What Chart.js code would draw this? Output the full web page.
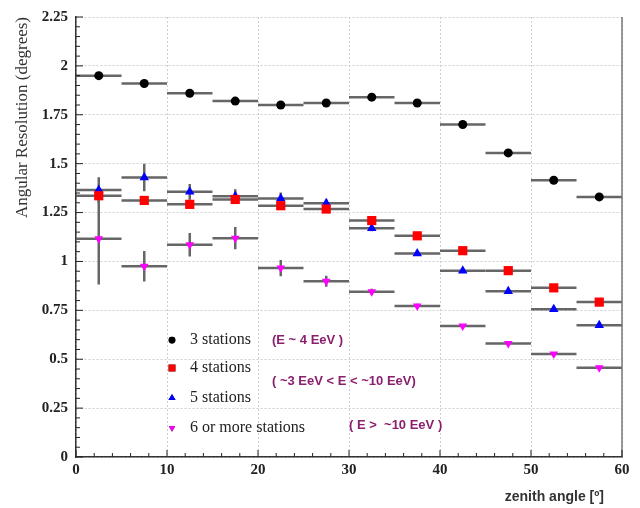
<!DOCTYPE html>
<html>
<head>
<meta charset="utf-8">
<script src="https://cdn.jsdelivr.net/npm/chart.js@4.4.1/dist/chart.umd.min.js"></script>
<style>
  html, body { margin: 0; padding: 0; background: #fff; }
  #wrap { width: 640px; height: 508px; }
</style>
</head>
<body>
<div id="wrap"><canvas id="chart" width="640" height="508"></canvas></div>
<script>
// zenith angle bins (centres, degrees) and half bin width
const zenithBins = [2.5, 7.5, 12.5, 17.5, 22.5, 27.5, 32.5, 37.5, 42.5, 47.5, 52.5, 57.5];
const BIN_HALF = 2.5;

// angular resolution (degrees) per station multiplicity
const res3 = [1.95, 1.91, 1.86, 1.82, 1.80, 1.81, 1.84, 1.81, 1.70, 1.555, 1.415, 1.33];
const res4 = [1.336, 1.312, 1.292, 1.317, 1.285, 1.268, 1.209, 1.131, 1.055, 0.953, 0.865, 0.792];
const res5 = [1.365, 1.429, 1.356, 1.334, 1.322, 1.297, 1.170, 1.040, 0.953, 0.848, 0.755, 0.674];
const res6 = [1.116, 0.975, 1.085, 1.119, 0.966, 0.899, 0.845, 0.772, 0.670, 0.581, 0.527, 0.457];

// vertical error bars
const err3 = [0.01, 0.01, 0.01, 0.01, 0.01, 0.01, 0.01, 0.01, 0.01, 0.01, 0.01, 0.01];
const err4 = [0.015, 0.015, 0.015, 0.015, 0.015, 0.012, 0.012, 0.01, 0.01, 0.01, 0.01, 0.01];
const err5 = [0.065, 0.07, 0.04, 0.035, 0.03, 0.02, 0.015, 0.01, 0.01, 0.01, 0.01, 0.01];
const err6 = [0.234, 0.078, 0.06, 0.057, 0.042, 0.028, 0.015, 0.012, 0.01, 0.01, 0.01, 0.01];

const seriesLabels = ['3 stations', '4 stations', '5 stations', '6 or more stations'];
const energyNotes = ['(E ~ 4 EeV )', '( ~3 EeV < E < ~10 EeV)', '( E >  ~10 EeV )'];
const xTitle = 'zenith angle [º]';

const points = (vals, errs) => zenithBins.map((x, i) => ({ x: x, y: vals[i], err: errs[i] }));

const errorBars = {
    id: 'errorBars',
    beforeDatasetsDraw(chart) {
        const { ctx, scales: { x, y } } = chart;
        ctx.save();
        ctx.strokeStyle = '#666';
        ctx.lineWidth = 2.5;
        chart.data.datasets.forEach(ds => {
            ds.data.forEach(p => {
                const yp = y.getPixelForValue(p.y);
                const xp = x.getPixelForValue(p.x);
                ctx.beginPath();
                ctx.moveTo(x.getPixelForValue(p.x - BIN_HALF), yp);
                ctx.lineTo(x.getPixelForValue(p.x + BIN_HALF), yp);
                ctx.moveTo(xp, y.getPixelForValue(p.y + p.err));
                ctx.lineTo(xp, y.getPixelForValue(p.y - p.err));
                ctx.stroke();
            });
        });
        ctx.restore();
    }
};

// inner minor ticks, right frame line, legend, energy notes, x title
const frame = {
    id: 'frame',
    afterDraw(chart) {
        const { ctx, chartArea: a, scales: { x, y } } = chart;
        ctx.save();
        ctx.strokeStyle = '#777';
        ctx.lineWidth = 1.5;
        ctx.beginPath();
        ctx.moveTo(a.right, a.top);
        ctx.lineTo(a.right, a.bottom);
        ctx.stroke();

        ctx.strokeStyle = '#222';
        ctx.lineWidth = 1;
        ctx.beginPath();
        for (let v = 0; v <= 60; v += 2) {
            const px = x.getPixelForValue(v);
            const len = v % 10 === 0 ? 7 : 4;
            ctx.moveTo(px, a.bottom);
            ctx.lineTo(px, a.bottom - len);
        }
        for (let k = 0; k <= 45; k++) {
            const py = y.getPixelForValue(k * 0.05);
            const len = k % 5 === 0 ? 7 : 4;
            ctx.moveTo(a.left, py);
            ctx.lineTo(a.left + len, py);
        }
        ctx.stroke();

        const rows = [340, 368, 398, 428];
        ctx.textBaseline = 'middle';
        chart.data.datasets.forEach((ds, i) => {
            Chart.helpers.drawPoint(ctx, {
                pointStyle: ds.pointStyle, rotation: ds.rotation || 0,
                radius: ds.pointRadius * 0.75, borderWidth: 0
            }, 172, rows[i]);
            ctx.fillStyle = ds.backgroundColor;
            ctx.fill();
            ctx.fillStyle = '#222';
            ctx.font = '16px "Liberation Serif"';
            ctx.fillText(seriesLabels[i], 190, rows[i]);
        });
        ctx.fillStyle = '#8a1f6e';
        ctx.font = 'bold 13px "Liberation Sans"';
        ctx.fillText(energyNotes[0], 272, 340);
        ctx.fillText(energyNotes[1], 272, 381);
        ctx.fillText(energyNotes[2], 349, 425);

        ctx.fillStyle = '#333';
        ctx.font = 'bold 14px "Liberation Sans"';
        ctx.textAlign = 'right';
        ctx.fillText(xTitle, 604, 497);
        ctx.restore();
    }
};

const tickFont = { family: '"Liberation Serif"', size: 15, weight: 'bold' };

new Chart(document.getElementById('chart'), {
    type: 'scatter',
    data: {
        datasets: [
            { label: seriesLabels[0], data: points(res3, err3), pointStyle: 'circle', pointRadius: 4.5,
              backgroundColor: '#000', borderColor: '#000', borderWidth: 0 },
            { label: seriesLabels[1], data: points(res4, err4), pointStyle: 'rect', pointRadius: 6.5,
              backgroundColor: '#ff0000', borderColor: '#ff0000', borderWidth: 0 },
            { label: seriesLabels[2], data: points(res5, err5), pointStyle: 'triangle', pointRadius: 5.5,
              backgroundColor: '#0000ff', borderColor: '#0000ff', borderWidth: 0 },
            { label: seriesLabels[3], data: points(res6, err6), pointStyle: 'triangle', rotation: 180, pointRadius: 5,
              backgroundColor: '#ff00ff', borderColor: '#ff00ff', borderWidth: 0 }
        ]
    },
    options: {
        responsive: false, animation: false,
        layout: { padding: { top: 11, right: 18, left: 0, bottom: 0 } },
        plugins: { legend: { display: false }, tooltip: { enabled: false } },
        scales: {
            x: {
                type: 'linear', min: 0, max: 60,
                afterFit: s => { s.height = 51; },
                ticks: { stepSize: 10, maxRotation: 0, color: '#222', font: tickFont, padding: 4 },
                grid: { color: '#cfcfcf', drawTicks: false },
                border: { color: '#333', width: 1.5, dash: [2, 2] }
            },
            y: {
                min: 0, max: 2.25,
                afterFit: s => { s.width = 76; },
                ticks: { stepSize: 0.25, color: '#222', font: tickFont, padding: 8,
                         callback: v => String(+v.toFixed(2)) },
                grid: { color: '#cfcfcf', drawTicks: false },
                border: { color: '#333', width: 1.5, dash: [2, 2] },
                title: { display: true, text: 'Angular Resolution (degrees)', align: 'end', color: '#333',
                         font: { family: '"Liberation Serif"', size: 17 }, padding: { top: 12, bottom: 0 } }
            }
        }
    },
    plugins: [errorBars, frame]
});
</script>
</body>
</html>
